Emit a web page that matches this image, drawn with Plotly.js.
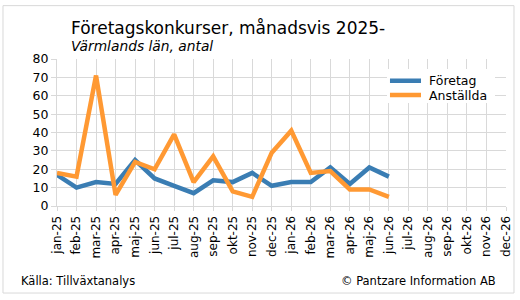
<!DOCTYPE html>
<html>
<head>
<meta charset="utf-8">
<script src="https://cdn.plot.ly/plotly-3.0.1.min.js"></script>
<style>
  html, body { margin: 0; padding: 0; background: #ffffff; }
  #chart { width: 520px; height: 300px; }
</style>
</head>
<body>
<div id="chart"></div>
<script>
// Monthly axis labels, jan-25 .. dec-26
const months = ["jan-25","feb-25","mar-25","apr-25","maj-25","jun-25","jul-25","aug-25",
  "sep-25","okt-25","nov-25","dec-25","jan-26","feb-26","mar-26","apr-26","maj-26","jun-26",
  "jul-26","aug-26","sep-26","okt-26","nov-26","dec-26"];

// Bankruptcies per month (companies) and affected employees
const foretag   = [17, 10, 13, 12, 25, 15, 11, 7, 14, 13, 18, 11, 13, 13, 21, 12, 21, 16];
const anstallda = [18, 16, 71, 6, 24, 20, 39, 13, 27, 8, 5, 29, 41, 18, 19, 9, 9, 5];

const seriesNames  = ["Företag", "Anställda"];
const seriesColors = ["#3a7db3", "#ff9933"];

const yTicks = [0, 10, 20, 30, 40, 50, 60, 70, 80];

const idx = months.map((m, i) => i);
const FONT = "DejaVu Sans, Verdana, sans-serif";

const traces = [foretag, anstallda].map((vals, k) => ({
  name: seriesNames[k],
  x: idx.slice(0, vals.length),
  y: vals,
  type: "scatter",
  mode: "lines",
  line: { color: seriesColors[k], width: 4.5 },
  hoverinfo: "skip"
}));

// Compact legend box (white panel with line swatches and labels)
const legBox = { x0: 0.735, x1: 0.9755, y0: 0.70, y1: 0.932 };
const legRows = [0.8524, 0.7551];
const legShapes = [{
  type: "rect", xref: "paper", yref: "paper",
  x0: legBox.x0, x1: legBox.x1, y0: legBox.y0, y1: legBox.y1,
  line: { width: 0 }, fillcolor: "#ffffff", layer: "above"
}];
const legLabels = [];
seriesNames.forEach((name, k) => {
  legShapes.push({
    type: "line", xref: "paper", yref: "paper",
    x0: 0.7416, x1: 0.8107, y0: legRows[k], y1: legRows[k],
    line: { color: seriesColors[k], width: 4.5 }, layer: "above"
  });
  legLabels.push({
    text: name, xref: "paper", yref: "paper",
    x: 0.824, y: legRows[k], xanchor: "left", yanchor: "middle",
    showarrow: false,
    font: { family: FONT, size: 12.5, color: "#000000" }
  });
});

const layout = {
  width: 520,
  height: 300,
  margin: { l: 57, r: 14, t: 59, b: 94 },
  paper_bgcolor: "#ffffff",
  plot_bgcolor: "#ffffff",
  font: { family: FONT, size: 12, color: "#000000" },
  showlegend: false,
  xaxis: {
    range: [0, months.length - 1],
    tickvals: idx,
    ticktext: months,
    tickangle: -90,
    showgrid: true,
    gridcolor: "#d9d9d9",
    gridwidth: 1,
    zeroline: false,
    showline: true,
    linecolor: "#d9d9d9",
    ticks: "outside",
    ticklen: 4,
    tickcolor: "#d9d9d9",
    tickfont: { family: FONT, size: 12, color: "#000000" },
    fixedrange: true
  },
  yaxis: {
    range: [0, 80],
    tickvals: yTicks,
    showgrid: true,
    gridcolor: "#d9d9d9",
    gridwidth: 1,
    zeroline: false,
    showline: true,
    linecolor: "#d9d9d9",
    ticks: "outside",
    ticklen: 5,
    tickcolor: "#d9d9d9",
    tickfont: { family: FONT, size: 12.5, color: "#000000" },
    fixedrange: true
  },
  annotations: [
    {
      text: "Företagskonkurser, månadsvis 2025-",
      xref: "paper", yref: "paper",
      x: 0.0267, y: 1.212, xanchor: "left", yanchor: "middle",
      showarrow: false,
      font: { family: FONT, size: 17, color: "#000000" }
    },
    {
      text: "<i>Värmlands län, antal</i>",
      xref: "paper", yref: "paper",
      x: 0.0267, y: 1.088, xanchor: "left", yanchor: "middle",
      showarrow: false,
      font: { family: FONT, size: 13.8, color: "#000000" }
    },
    {
      text: "Källa: Tillväxtanalys",
      xref: "paper", yref: "paper",
      x: -0.0846, y: -0.510, xanchor: "left", yanchor: "middle",
      showarrow: false,
      font: { family: FONT, size: 11.5, color: "#000000" }
    },
    {
      text: "© Pantzare Information AB",
      xref: "paper", yref: "paper",
      x: 0.982, y: -0.510, xanchor: "right", yanchor: "middle",
      showarrow: false,
      font: { family: FONT, size: 11.5, color: "#000000" }
    }
  ].concat(legLabels),
  shapes: [
    {
      type: "rect",
      xref: "paper", yref: "paper",
      x0: -0.1203, x1: 1.0178, y0: -0.592, y1: 1.363,
      line: { color: "#d9d9d9", width: 1 },
      fillcolor: "rgba(0,0,0,0)",
      layer: "below"
    }
  ].concat(legShapes)
};

Plotly.newPlot("chart", traces, layout, { displayModeBar: false, staticPlot: true });
</script>
</body>
</html>
